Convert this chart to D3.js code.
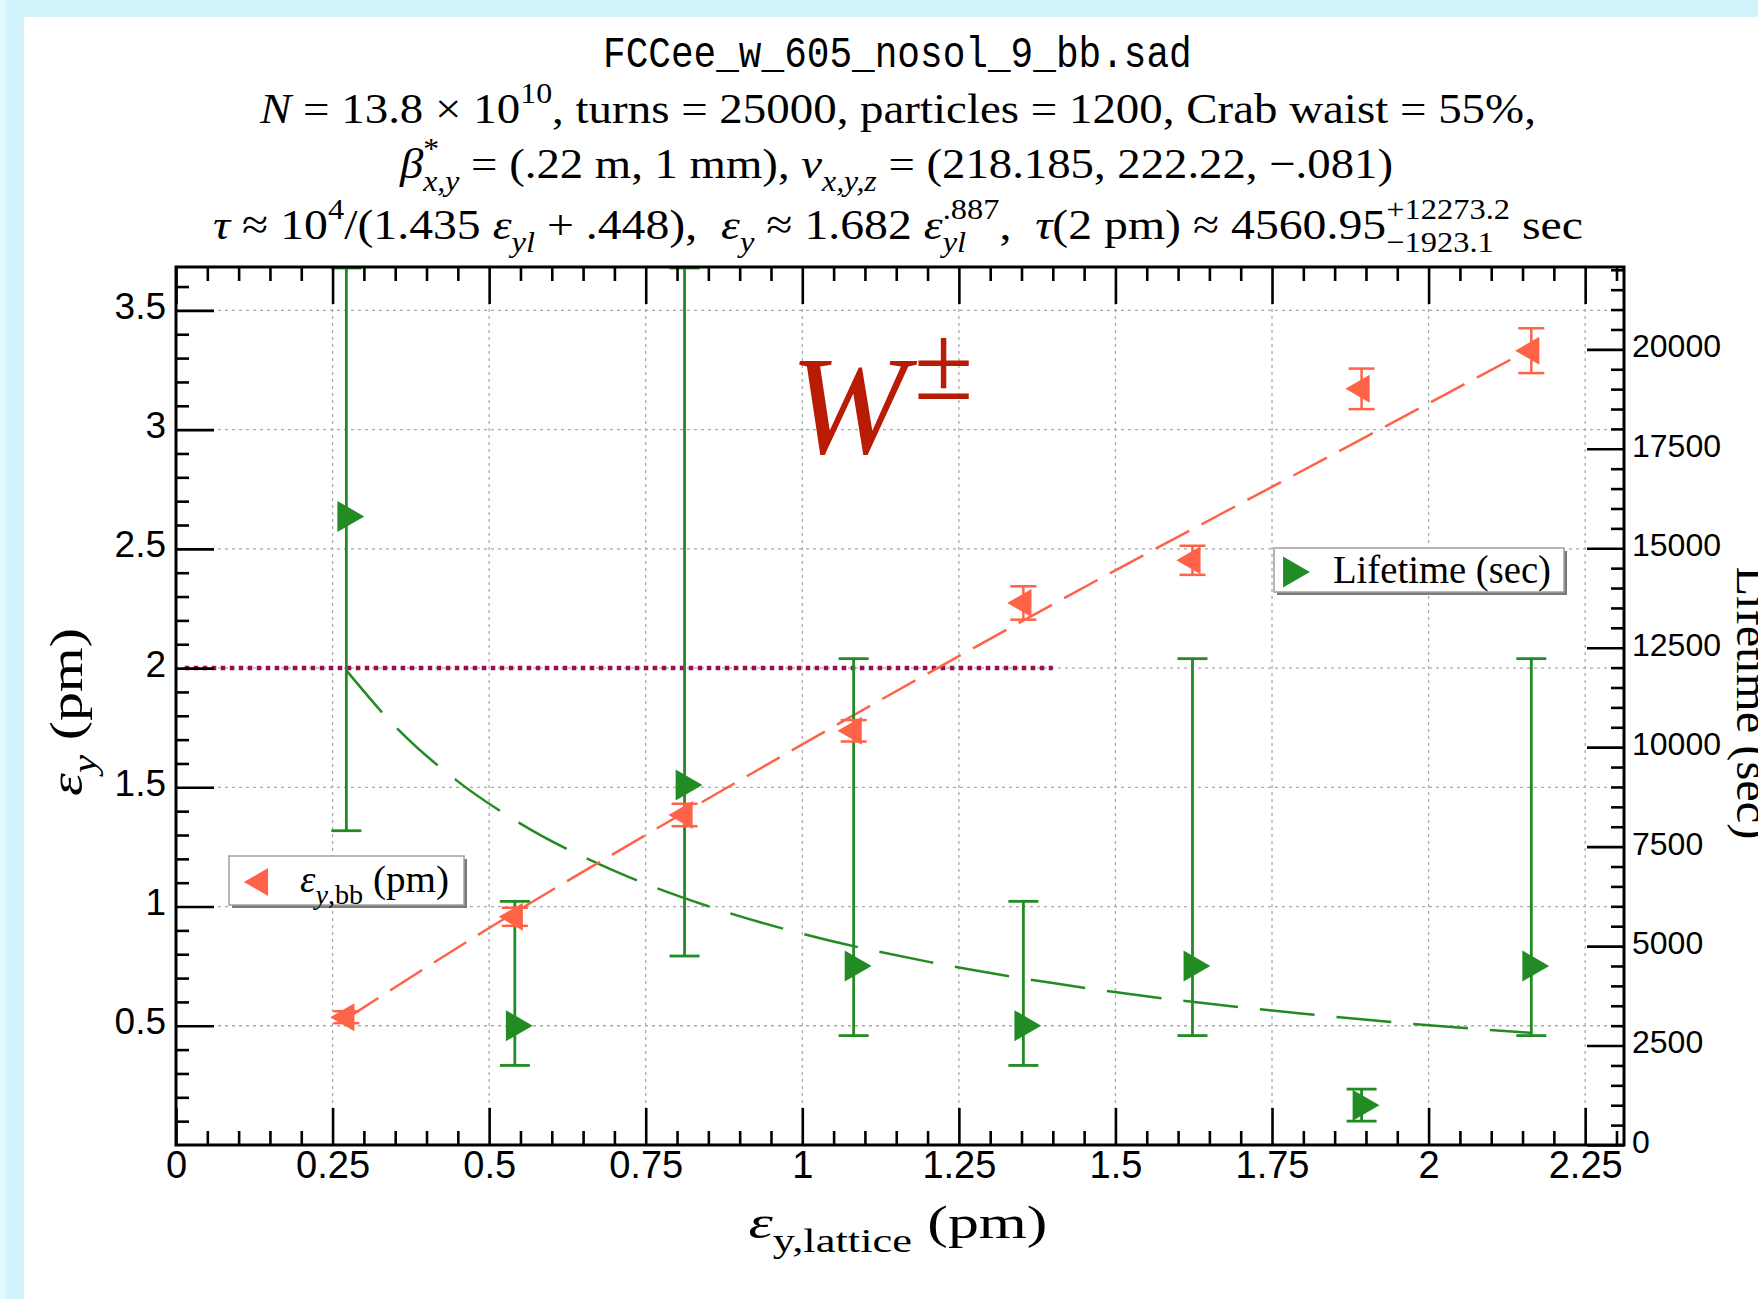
<!DOCTYPE html>
<html>
<head>
<meta charset="utf-8">
<script src="https://cdn.jsdelivr.net/npm/d3@7"></script>
<style>
  body { margin: 0; background: #d3f3fb; }
  svg { display: block; }
</style>
</head>
<body>
<div class="canvas"></div>
<script>
// ---- data ----
const latticeEmit = [0.272, 0.541, 0.812, 1.082, 1.353, 1.623, 1.893, 2.164];
// left axis series: eps_y,bb (pm)
const bbEmit = [0.536, 0.957, 1.384, 1.737, 2.273, 2.452, 3.171, 3.331];
const bbErr  = [0.025, 0.038, 0.047, 0.045, 0.070, 0.061, 0.085, 0.094];
// right axis series: lifetime (sec)
const lifetime   = [15800, 3000, 9050, 4500, 3000, 4500, 1000, 4500];
const lifetimeLo = [7900, 2000, 4750, 2750, 2000, 2750, 600, 2750];
const lifetimeHi = [30000, 6150, 30000, 12250, 6150, 12250, 1430, 12250];
// fitted curves, as seen in the plot
const emitFitX = [0.272, 0.5, 0.75, 1.0, 1.25, 1.5, 1.75, 2.0, 2.164];
const emitFitY = [0.53, 0.91, 1.30, 1.68, 2.05, 2.41, 2.76, 3.11, 3.34];
const lifeFitX = [0.272, 0.35, 0.45, 0.55, 0.7, 0.85, 1.0, 1.2, 1.4, 1.6, 1.8, 2.0, 2.164];
const lifeFitY = [11930, 10520, 9140, 8080, 6890, 6000, 5310, 4610, 4070, 3640, 3300, 3010, 2820];
// 2 pm reference line
const refLineX = [0.014, 1.40];
const refLineY = [2, 2];
// ticks
const xTicks = [0, 0.25, 0.5, 0.75, 1, 1.25, 1.5, 1.75, 2, 2.25];
const xTickLabels = ['0', '0.25', '0.5', '0.75', '1', '1.25', '1.5', '1.75', '2', '2.25'];
const yTicks = [0.5, 1, 1.5, 2, 2.5, 3, 3.5];
const yTickLabels = ['0.5', '1', '1.5', '2', '2.5', '3', '3.5'];
const rTicks = [0, 2500, 5000, 7500, 10000, 12500, 15000, 17500, 20000];
const rTickLabels = ['0', '2500', '5000', '7500', '10000', '12500', '15000', '17500', '20000'];

const W = 1758, H = 1299;
const frame = { left: 176, right: 1624, top: 267, bottom: 1145 };
const green = '#238b23', tomato = '#ff6347';
const serif = "'Liberation Serif', 'Times New Roman', serif";
const sans = "'Liberation Sans', Arial, sans-serif";

const svg = d3.select('.canvas').append('svg')
  .attr('width', W).attr('height', H);

// background: cyan border, white page
svg.append('rect').attr('width', W).attr('height', H).attr('fill', '#d3f3fb');
svg.append('rect').attr('width', 6).attr('height', H).attr('fill', '#e2f8fc');
svg.append('rect').attr('x', 24).attr('y', 17).attr('width', W - 24).attr('height', H - 17).attr('fill', '#fff');

const x = d3.scaleLinear().domain([0, 2.312]).range([frame.left, frame.right]);
const y = d3.scaleLinear().domain([0, 3.682]).range([frame.bottom, frame.top]);
const yR = d3.scaleLinear().domain([0, 22070]).range([frame.bottom, frame.top]).clamp(true);

// text made of pieces (italic, sub, sup, stacked)
function richText(parent, pieces, o) {
  const g = parent.append('g').attr('font-family', serif).attr('fill', o.color || '#000');
  let cx = 0, held = 0;
  pieces.forEach(p => {
    const fs = p.s ? o.size * (p.f || 0.68) : o.size;
    const dy = p.s === 'sup' ? -o.size * 0.46 : p.s === 'sub' ? o.size * 0.30 : 0;
    const t = g.append('text')
      .attr('x', cx).attr('y', dy)
      .attr('font-size', fs)
      .attr('font-style', p.i ? 'italic' : 'normal')
      .style('white-space', 'pre')
      .text(p.t);
    const w = t.node().getComputedTextLength();
    if (p.k) held = w;
    else { cx += Math.max(w, held); held = 0; }
  });
  const sx = o.width ? o.width / cx : 1;
  const left = o.anchor === 'start' ? 0 : cx * sx / 2;
  g.attr('transform', `translate(${o.x - left},${o.y}) scale(${sx},1)`);
  return g;
}

// ---- title ----
const t1 = svg.append('text')
  .attr('font-family', "'Liberation Mono', 'Courier New', monospace")
  .attr('font-size', 45).attr('y', 0)
  .text('FCCee_w_605_nosol_9_bb.sad');
const t1w = t1.node().getComputedTextLength();
t1.attr('transform', `translate(${897.5 - 589 / 2},67) scale(${589 / t1w},1)`);

richText(svg, [
  { t: 'N', i: 1 }, { t: ' = 13.8 × 10' }, { t: '10', s: 'sup' },
  { t: ', turns = 25000, particles = 1200, Crab waist = 55%,' }
], { x: 898, y: 123, size: 43, width: 1276 });

richText(svg, [
  { t: 'β', i: 1 }, { t: '*', s: 'sup', k: 1 }, { t: 'x,y', i: 1, s: 'sub' },
  { t: ' = (.22 m, 1 mm), ' }, { t: 'ν', i: 1 }, { t: 'x,y,z', i: 1, s: 'sub' },
  { t: ' = (218.185, 222.22, −.081)' }
], { x: 896.5, y: 178, size: 43, width: 993 });

richText(svg, [
  { t: 'τ', i: 1 }, { t: ' ≈ 10' }, { t: '4', s: 'sup' }, { t: '/(1.435 ' },
  { t: 'ε', i: 1 }, { t: 'yl', i: 1, s: 'sub' }, { t: ' + .448),  ' },
  { t: 'ε', i: 1 }, { t: 'y', i: 1, s: 'sub' }, { t: ' ≈ 1.682 ' },
  { t: 'ε', i: 1 }, { t: '.887', s: 'sup', k: 1 }, { t: 'yl', i: 1, s: 'sub' },
  { t: ',  ' }, { t: 'τ', i: 1 }, { t: '(2 pm) ≈ 4560.95' },
  { t: '+12273.2', s: 'sup', k: 1 }, { t: '−1923.1', s: 'sub' }, { t: ' sec' }
], { x: 898, y: 239, size: 43, width: 1370 });

// ---- grid ----
const grid = svg.append('g').attr('stroke', '#aaa').attr('stroke-width', 1.3).attr('stroke-dasharray', '3,4');
grid.selectAll('.vg').data(xTicks.slice(1)).join('line')
  .attr('x1', d => x(d)).attr('x2', d => x(d)).attr('y1', frame.top).attr('y2', frame.bottom);
grid.selectAll('.hg').data(yTicks).join('line')
  .attr('x1', frame.left).attr('x2', frame.right).attr('y1', d => y(d)).attr('y2', d => y(d));

// ---- plot area ----
svg.append('clipPath').attr('id', 'plotclip').append('rect')
  .attr('x', frame.left).attr('y', frame.top - 2)
  .attr('width', frame.right - frame.left).attr('height', frame.bottom - frame.top + 2);
const plot = svg.append('g').attr('clip-path', 'url(#plotclip)');

// reference line at 2 pm
plot.append('path')
  .datum(refLineX.map((d, i) => [d, refLineY[i]]))
  .attr('d', d3.line().x(d => x(d[0])).y(d => y(d[1])))
  .attr('stroke', '#9a0f50').attr('stroke-width', 4.5).attr('stroke-dasharray', '4.5,4.5').attr('fill', 'none');

// fits
plot.append('path')
  .datum(lifeFitX.map((d, i) => [d, lifeFitY[i]]))
  .attr('d', d3.line().curve(d3.curveMonotoneX).x(d => x(d[0])).y(d => yR(d[1])))
  .attr('stroke', green).attr('stroke-width', 2.5).attr('stroke-dasharray', '55,22').attr('fill', 'none');
plot.append('path')
  .datum(emitFitX.map((d, i) => [d, emitFitY[i]]))
  .attr('d', d3.line().curve(d3.curveMonotoneX).x(d => x(d[0])).y(d => y(d[1])))
  .attr('stroke', tomato).attr('stroke-width', 2.5).attr('stroke-dasharray', '38,14').attr('fill', 'none');

// green error bars + markers
const lifeData = latticeEmit.map((d, i) => ({ x: d, v: lifetime[i], lo: lifetimeLo[i], hi: lifetimeHi[i] }));
const ge = plot.append('g').attr('stroke', green).attr('stroke-width', 2.8);
ge.selectAll('.v').data(lifeData).join('line')
  .attr('x1', d => x(d.x)).attr('x2', d => x(d.x)).attr('y1', d => yR(d.lo)).attr('y2', d => yR(d.hi));
ge.selectAll('.lo').data(lifeData).join('line')
  .attr('x1', d => x(d.x) - 15).attr('x2', d => x(d.x) + 15).attr('y1', d => yR(d.lo)).attr('y2', d => yR(d.lo));
ge.selectAll('.hi').data(lifeData).join('line')
  .attr('x1', d => x(d.x) - 15).attr('x2', d => x(d.x) + 15).attr('y1', d => yR(d.hi) + 1).attr('y2', d => yR(d.hi) + 1);

// red error bars + markers
const bbData = latticeEmit.map((d, i) => ({ x: d, v: bbEmit[i], e: bbErr[i] }));
const re = plot.append('g').attr('stroke', tomato).attr('stroke-width', 2.5);
re.selectAll('.v').data(bbData).join('line')
  .attr('x1', d => x(d.x)).attr('x2', d => x(d.x)).attr('y1', d => y(d.v - d.e)).attr('y2', d => y(d.v + d.e));
re.selectAll('.lo').data(bbData).join('line')
  .attr('x1', d => x(d.x) - 13).attr('x2', d => x(d.x) + 13).attr('y1', d => y(d.v - d.e)).attr('y2', d => y(d.v - d.e));
re.selectAll('.hi').data(bbData).join('line')
  .attr('x1', d => x(d.x) - 13).attr('x2', d => x(d.x) + 13).attr('y1', d => y(d.v + d.e)).attr('y2', d => y(d.v + d.e));

const triG = d3.symbol(d3.symbolTriangle, 416)();
const triR = d3.symbol(d3.symbolTriangle, 339)();
plot.selectAll('.gm').data(lifeData).join('path')
  .attr('d', triG).attr('fill', green)
  .attr('transform', d => `translate(${x(d.x)},${yR(d.v)}) rotate(90)`);
plot.selectAll('.rm').data(bbData).join('path')
  .attr('d', triR).attr('fill', tomato)
  .attr('transform', d => `translate(${x(d.x)},${y(d.v)}) rotate(-90)`);

// ---- axes ----
function styleAxis(g, size) {
  g.select('.domain').remove();
  g.attr('font-size', size).attr('font-family', sans);
  g.selectAll('line').attr('stroke-width', 2.6);
}
const xMinor = d3.range(0.05, 2.31, 0.05).filter(d => Math.abs(d / 0.25 - Math.round(d / 0.25)) > 1e-6);
const yMinor = d3.range(0.1, 3.65, 0.1).filter(d => Math.abs(d / 0.5 - Math.round(d / 0.5)) > 1e-6);
const rMinor = d3.range(500, 22001, 500).filter(d => d % 2500 !== 0);

svg.append('g').attr('transform', `translate(0,${frame.bottom})`)
  .call(d3.axisBottom(x).tickValues(xTicks).tickFormat((d, i) => xTickLabels[i]).tickSize(-37).tickPadding(6))
  .call(g => styleAxis(g, 38));
svg.append('g').attr('transform', `translate(0,${frame.bottom})`)
  .call(d3.axisBottom(x).tickValues(xMinor).tickFormat('').tickSize(-14))
  .call(g => styleAxis(g, 10));
svg.append('g').attr('transform', `translate(0,${frame.top})`)
  .call(d3.axisTop(x).tickValues(xTicks).tickFormat('').tickSize(-37))
  .call(g => styleAxis(g, 10));
svg.append('g').attr('transform', `translate(0,${frame.top})`)
  .call(d3.axisTop(x).tickValues(xMinor).tickFormat('').tickSize(-14))
  .call(g => styleAxis(g, 10));

svg.append('g').attr('transform', `translate(${frame.left},0)`)
  .call(d3.axisLeft(y).tickValues(yTicks).tickFormat((d, i) => yTickLabels[i]).tickSize(-38).tickPadding(10))
  .call(g => { styleAxis(g, 37); g.selectAll('text').attr('dy', '0.22em'); });
svg.append('g').attr('transform', `translate(${frame.left},0)`)
  .call(d3.axisLeft(y).tickValues(yMinor).tickFormat('').tickSize(-13))
  .call(g => styleAxis(g, 10));

svg.append('g').attr('transform', `translate(${frame.right},0)`)
  .call(d3.axisRight(yR).tickValues(rTicks).tickFormat((d, i) => rTickLabels[i]).tickSize(-37).tickPadding(8))
  .call(g => { styleAxis(g, 32); g.selectAll('text').attr('dy', '0.23em'); });
svg.append('g').attr('transform', `translate(${frame.right},0)`)
  .call(d3.axisRight(yR).tickValues(rMinor).tickFormat('').tickSize(-13))
  .call(g => styleAxis(g, 10));

svg.append('rect')
  .attr('x', frame.left).attr('y', frame.top)
  .attr('width', frame.right - frame.left).attr('height', frame.bottom - frame.top)
  .attr('fill', 'none').attr('stroke', '#000').attr('stroke-width', 3);

// ---- axis titles ----
richText(svg, [{ t: 'ε', i: 1 }, { t: 'y,lattice', s: 'sub', f: 0.72 }, { t: ' (pm)' }],
  { x: 898, y: 1238, size: 47, width: 299 });
richText(svg.append('g').attr('transform', 'translate(82,712) rotate(-90)'),
  [{ t: 'ε', i: 1 }, { t: 'y', i: 1, s: 'sub', f: 0.72 }, { t: ' (pm)' }],
  { x: 0, y: 0, size: 47, width: 168 });
richText(svg.append('g').attr('transform', 'translate(1737,703) rotate(90)'),
  [{ t: 'Lifetime (sec)' }],
  { x: 0, y: 0, size: 47, width: 273 });

// ---- W± label ----
svg.append('text').attr('x', 790).attr('y', 453)
  .attr('font-family', serif).attr('font-style', 'italic').attr('font-size', 140)
  .attr('fill', '#b91c05').text('W');
svg.append('text').attr('x', 914).attr('y', 399)
  .attr('font-family', serif).attr('font-size', 108)
  .attr('fill', '#b91c05').text('±');

// ---- legends ----
function legendBox(x0, y0, w, h) {
  svg.append('rect').attr('x', x0 + 3).attr('y', y0 + 3).attr('width', w).attr('height', h).attr('fill', '#7a7a7a');
  svg.append('rect').attr('x', x0).attr('y', y0).attr('width', w).attr('height', h)
    .attr('fill', '#fff').attr('stroke', '#a0a0a0').attr('stroke-width', 1.5);
}
legendBox(1274, 548, 290, 44);
svg.append('path').attr('d', triG).attr('fill', green)
  .attr('transform', 'translate(1292,572) rotate(90)');
richText(svg, [{ t: 'Lifetime (sec)' }], { x: 1333, y: 583, size: 39, width: 218, anchor: 'start' });

legendBox(229, 856, 235, 49);
svg.append('path').attr('d', triR).attr('fill', tomato)
  .attr('transform', 'translate(260,882) rotate(-90)');
richText(svg, [{ t: 'ε', i: 1 }, { t: 'y', i: 1, s: 'sub', f: 0.72 }, { t: ',bb', s: 'sub', f: 0.72 }, { t: ' (pm)' }],
  { x: 300, y: 892, size: 39, width: 149, anchor: 'start' });
</script>
</body>
</html>
